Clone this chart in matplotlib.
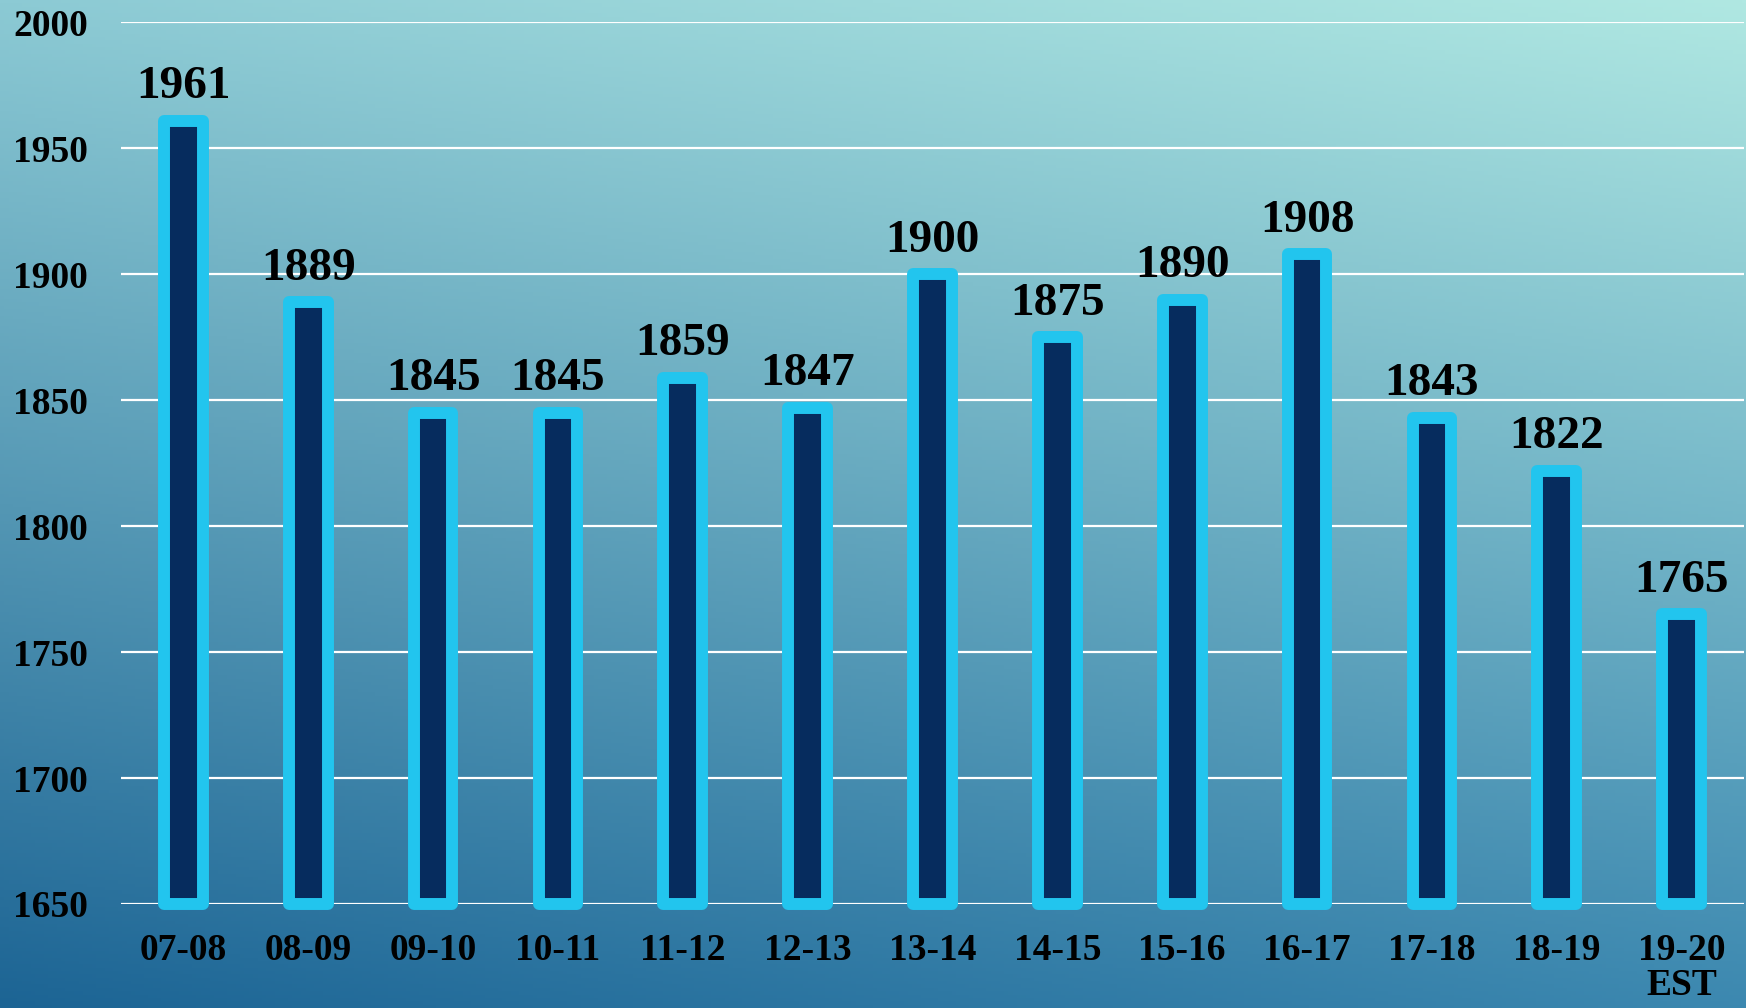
import numpy as np
import matplotlib
matplotlib.use('Agg')
import matplotlib.pyplot as plt
from matplotlib.colors import to_rgb

plt.rcParams['font.family'] = 'Liberation Serif'
plt.rcParams['font.weight'] = 'bold'

# school years and enrollment counts
years = ['07-08', '08-09', '09-10', '10-11', '11-12', '12-13', '13-14',
         '14-15', '15-16', '16-17', '17-18', '18-19', '19-20\nEST']
enrollment = [1961, 1889, 1845, 1845, 1859, 1847, 1900,
              1875, 1890, 1908, 1843, 1822, 1765]
y_ticks = [1650, 1700, 1750, 1800, 1850, 1900, 1950, 2000]

fig = plt.figure(figsize=(17.46, 10.08), dpi=100)

# four-corner gradient background
bg = fig.add_axes([0, 0, 1, 1], zorder=0)
tl, tr = np.array(to_rgb('#8ccad4')), np.array(to_rgb('#b0e8e2'))
bl, br = np.array(to_rgb('#1c6494')), np.array(to_rgb('#3c88b0'))
u = np.linspace(0, 1, 400)[None, :, None]
v = np.linspace(0, 1, 300)[:, None, None]
img = (1 - v) * ((1 - u) * tl + u * tr) + v * ((1 - u) * bl + u * br)
bg.imshow(img, aspect='auto', extent=[0, 1, 0, 1])
bg.axis('off')

ax = fig.add_axes([0.0693, 0.1032, 0.9296, 0.8745], zorder=1)
ax.set_facecolor('none')

x = np.arange(len(years))
bars = ax.bar(x, np.array(enrollment) - 1650, bottom=1650, width=0.31,
              color='#062c5e', edgecolor='#22c5ee', linewidth=8.6,
              joinstyle='round', zorder=3)
for b in bars:
    b.set_clip_on(False)

for xi, val in zip(x, enrollment):
    ax.annotate(str(val), (xi, val), xytext=(0, 9), textcoords='offset points',
                ha='center', va='bottom', fontsize=34, fontweight='bold',
                color='black', zorder=4)

ax.set_xlim(-0.5, 12.5)
ax.set_ylim(1650, 2000)
ax.set_yticks(y_ticks)
ax.set_xticks(x)
ax.set_xticklabels(years, fontsize=27, fontweight='bold', linespacing=1.0)
ax.set_yticklabels([str(t) for t in y_ticks], fontsize=27, fontweight='bold')
ax.tick_params(axis='y', length=0, pad=24)
ax.tick_params(axis='x', length=0, pad=21)
ax.grid(axis='y', color='white', linewidth=1.6, zorder=1)
ax.set_axisbelow(True)
for s in ax.spines.values():
    s.set_visible(False)

fig.savefig('out.png', dpi=100)
